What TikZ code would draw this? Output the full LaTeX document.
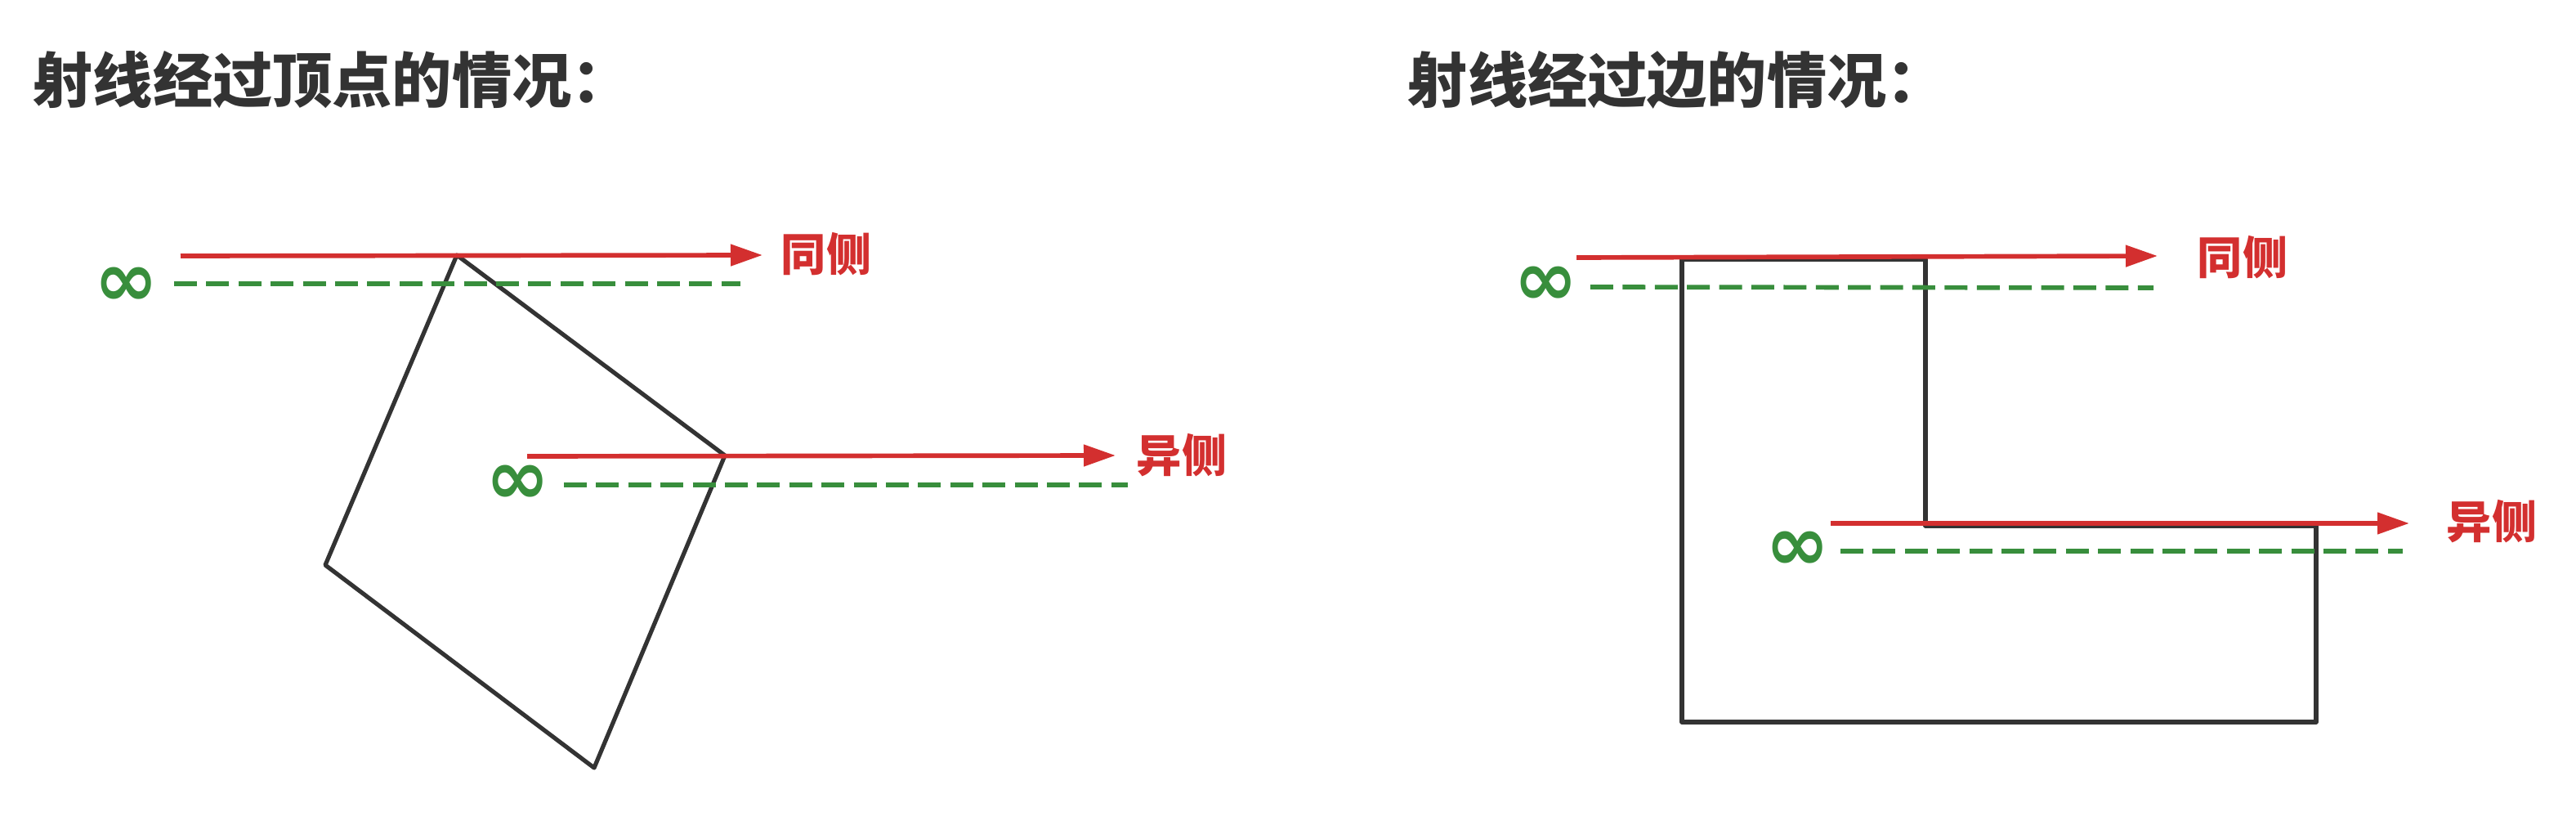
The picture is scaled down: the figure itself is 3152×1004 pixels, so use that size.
\documentclass[tikz,border=0pt]{standalone}
\usepackage{fontspec}
\newfontfamily\cjk{Noto Sans CJK SC}
\newfontfamily\symf{DejaVu Sans}
\usetikzlibrary{arrows.meta}
\definecolor{ink}{HTML}{333333}
\definecolor{rayred}{HTML}{D32F2F}
\definecolor{infgreen}{HTML}{388E3C}
\tikzset{
  title/.style={anchor=west, inner sep=0pt, text=ink, font=\cjk\bfseries\fontsize{18.3pt}{20pt}\selectfont},
  sidelabel/.style={anchor=west, inner sep=0pt, text=rayred, font=\cjk\bfseries\fontsize{13.8pt}{15pt}\selectfont},
  infsym/.style={inner sep=0pt, text=infgreen, font=\symf\bfseries\fontsize{23.5pt}{24pt}\selectfont},
  ray/.style={draw=rayred, line width=1.42pt, -{Triangle[length=9.75pt,width=6.4pt]}},
  refray/.style={draw=infgreen, line width=1.42pt, dash pattern=on 7pt off 2.85pt},
  outline/.style={draw=ink, line width=1.3pt, line join=round},
}
\begin{document}
\begin{tikzpicture}[x=0.25pt, y=-0.25pt]
\useasboundingbox (0,0) rectangle (3152,1004);
% titles
\node[title] (t1) at (40,98) {射线经过顶点的情况：};
\node[title] (t2) at (1722,98) {射线经过边的情况：};

% ---- left: vertex case ----
\coordinate (va) at (559,312);
\coordinate (vb) at (887,557);
\coordinate (vc) at (727,939);
\coordinate (vd) at (398,691);
\draw[outline] (va) -- (vb) -- (vc) -- (vd) -- cycle;

\coordinate (r1s) at (221,313);
\coordinate (r1e) at (933,312);
\draw[ray] (r1s) -- (r1e);
\node[sidelabel] (l1) at (955,311) {同侧};
\node[infsym] (i1) at (155,351) {∞};
\coordinate (g1e) at (906,347);
\draw[refray] (i1.east) ++(18,-4) coordinate (g1s) -- (g1e);

\coordinate (r2s) at (645,558);
\coordinate (r2e) at (1365,557);
\draw[ray] (r2s) -- (r2e);
\node[sidelabel] (l2) at (1390,557) {异侧};
\node[infsym] (i2) at (634,593) {∞};
\coordinate (g2e) at (1380,593);
\draw[refray] (i2.east) ++(16,0) coordinate (g2s) -- (g2e);

% ---- right: edge case ----
\coordinate (ea) at (2058,317);
\coordinate (eb) at (2356,317);
\coordinate (ec) at (2356,643);
\coordinate (ed) at (2834,643);
\coordinate (ee) at (2834,883);
\coordinate (ef) at (2058,883);
\draw[outline] (ea) -- (eb) -- (ec) -- (ed) -- (ee) -- (ef) -- cycle;

\coordinate (r3s) at (1929,315);
\coordinate (r3e) at (2640,313);
\draw[ray] (r3s) -- (r3e);
\node[sidelabel] (l3) at (2688,315) {同侧};
\node[infsym] (i3) at (1892,350) {∞};
\coordinate (g3e) at (2635,352);
\draw[refray] (i3.east) ++(14,1) coordinate (g3s) -- (g3e);

\coordinate (r4s) at (2240,640);
\coordinate (r4e) at (2948,640);
\draw[ray] (r4s) -- (r4e);
\node[sidelabel] (l4) at (2993,638) {异侧};
\node[infsym] (i4) at (2200,674) {∞};
\coordinate (g4e) at (2940,674);
\draw[refray] (i4.east) ++(12,0) coordinate (g4s) -- (g4e);
\end{tikzpicture}
\end{document}
